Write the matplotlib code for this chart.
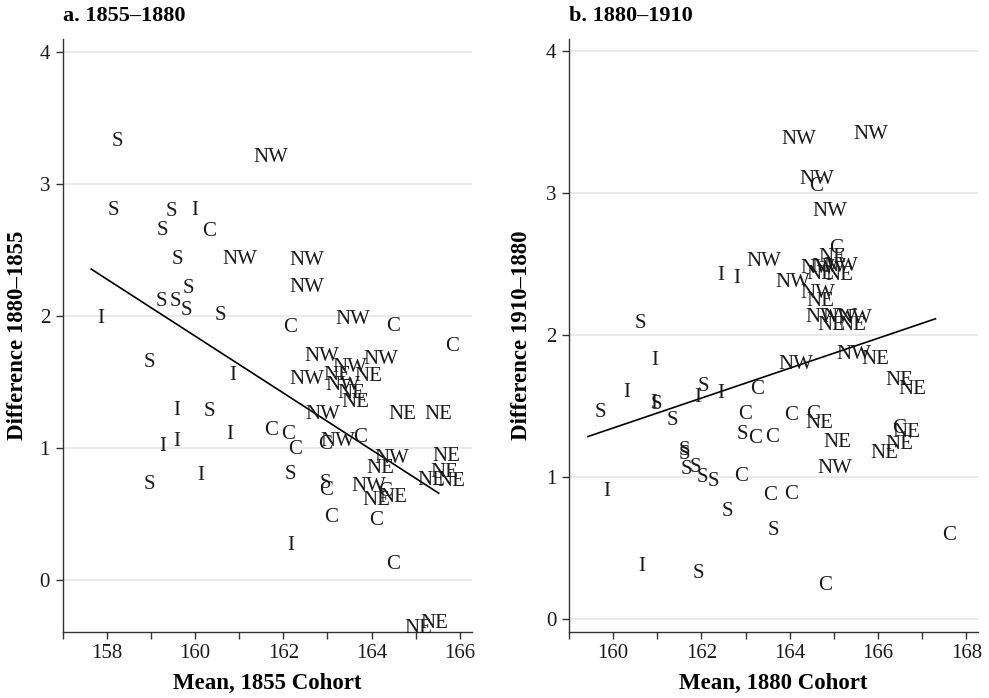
import numpy as np
import matplotlib.pyplot as plt

plt.rcParams['font.family'] = ['Liberation Serif', 'DejaVu Serif']

# panel a: 1855 cohort mean vs. change 1855-1880, labelled by region
reg_a = ['S', 'NW', 'S', 'S', 'I', 'S', 'C', 'S', 'NW', 'NW',
         'NW', 'S', 'S', 'S', 'S', 'S', 'I', 'C', 'NW', 'C',
         'C', 'S', 'NW', 'NW', 'I', 'NW', 'NE', 'NW', 'NE', 'NW',
         'NE', 'NE', 'I', 'S', 'NW', 'NE', 'NE', 'C', 'C', 'I',
         'I', 'I', 'C', 'C', 'NW', 'C', 'NW', 'NE', 'NE', 'NE',
         'NE', 'NE', 'S', 'S', 'I', 'S', 'C', 'NW', 'C', 'NE',
         'NE', 'C', 'C', 'I', 'C', 'NE', 'NE']
mean_a = [157.97, 161.18, 157.88, 159.19, 159.77, 158.99, 160.01, 159.33, 160.47, 162.00,
          162.00, 159.57, 158.96, 159.28, 159.53, 160.31, 157.65, 161.85, 163.04, 164.19,
          165.52, 158.70, 162.33, 163.67, 160.64, 162.00, 162.77, 162.81, 163.46, 162.98,
          163.09, 163.17, 159.36, 160.06, 162.35, 164.24, 165.05, 161.43, 161.82, 160.56,
          159.36, 159.06, 161.97, 162.64, 162.69, 163.44, 163.92, 163.75, 165.23, 165.18,
          164.90, 165.34, 161.88, 158.70, 159.92, 162.68, 162.66, 163.41, 164.01, 163.64,
          164.03, 162.78, 163.80, 161.94, 164.19, 164.61, 164.97]
diff_a = [3.34, 3.22, 2.82, 2.81, 2.82, 2.67, 2.66, 2.45, 2.45, 2.44,
          2.235, 2.23, 2.13, 2.13, 2.06, 2.02, 2.00, 1.93, 1.99, 1.94,
          1.79, 1.665, 1.71, 1.69, 1.57, 1.54, 1.57, 1.49, 1.557, 1.63,
          1.434, 1.365, 1.306, 1.296, 1.27, 1.275, 1.27, 1.152, 1.12, 1.118,
          1.067, 1.03, 1.006, 1.045, 1.065, 1.096, 0.94, 0.866, 0.955, 0.835,
          0.77, 0.763, 0.814, 0.742, 0.81, 0.75, 0.70, 0.725, 0.686, 0.622,
          0.64, 0.494, 0.469, 0.282, 0.136, -0.351, -0.312]

# panel b: 1880 cohort mean vs. change 1880-1910
reg_b = ['NW', 'NW', 'NW', 'C', 'NW', 'C', 'NE', 'NW', 'NW', 'NW',
         'NE', 'NE', 'NW', 'I', 'I', 'NW', 'NW', 'NE', 'NW', 'NW',
         'NW', 'NE', 'NE', 'S', 'I', 'NW', 'NW', 'NE', 'NE', 'NE',
         'I', 'S', 'I', 'I', 'C', 'I', 'S', 'S', 'S', 'C',
         'C', 'C', 'NE', 'S', 'C', 'C', 'NE', 'C', 'NE', 'NE',
         'NE', 'NW', 'S', 'S', 'S', 'S', 'S', 'S', 'C', 'I',
         'C', 'C', 'S', 'S', 'C', 'I', 'S', 'C']
mean_b = [163.66, 165.30, 164.08, 164.29, 164.38, 164.74, 164.50, 164.10, 164.34, 164.62,
          164.24, 164.67, 162.87, 162.21, 162.58, 163.54, 164.09, 164.23, 164.22, 164.60,
          164.93, 164.49, 164.95, 160.34, 160.73, 163.61, 164.91, 165.47, 166.03, 166.32,
          160.08, 161.77, 161.69, 162.21, 162.96, 160.69, 160.70, 159.43, 161.08, 162.69,
          163.72, 164.24, 164.21, 162.66, 162.91, 163.31, 164.61, 166.17, 166.19, 166.03,
          165.68, 164.49, 161.34, 161.35, 161.39, 161.59, 161.76, 161.99, 162.60, 159.64,
          163.25, 163.73, 162.31, 163.35, 167.30, 160.43, 161.65, 164.50]
diff_b = [3.393, 3.431, 3.11, 3.066, 2.89, 2.625, 2.56, 2.485, 2.49, 2.50,
          2.44, 2.433, 2.538, 2.434, 2.418, 2.385, 2.31, 2.25, 2.138, 2.138,
          2.133, 2.083, 2.083, 2.097, 1.84, 1.812, 1.877, 1.846, 1.694, 1.636,
          1.61, 1.655, 1.58, 1.607, 1.632, 1.537, 1.525, 1.473, 1.418, 1.456,
          1.449, 1.459, 1.396, 1.32, 1.29, 1.298, 1.26, 1.357, 1.334, 1.248,
          1.182, 1.074, 1.207, 1.176, 1.068, 1.082, 1.015, 0.988, 1.019, 0.914,
          0.886, 0.896, 0.773, 0.642, 0.605, 0.384, 0.336, 0.255]

panels = [
    dict(x=mean_a, y=diff_a, lab=reg_a, title='a. 1855–1880',
         xlabel='Mean, 1855 Cohort', ylabel='Difference 1880–1855',
         xlim=(157.38, 166.27), ylim=(-0.395, 4.1), xticks=range(158, 167, 2),
         pos=[0.0632, 0.0946, 0.4139, 0.8496], ylab_x=-0.111),
    dict(x=mean_b, y=diff_b, lab=reg_b, title='b. 1880–1910',
         xlabel='Mean, 1880 Cohort', ylabel='Difference 1910–1880',
         xlim=(159.16, 168.27), ylim=(-0.092, 4.085), xticks=range(160, 169, 2),
         pos=[0.5753, 0.0946, 0.4139, 0.8496], ylab_x=-0.115),
]

fig = plt.figure(figsize=(9.89, 6.98), dpi=100)

for p in panels:
    ax = fig.add_axes(p['pos'])
    x = np.array(p['x'])
    y = np.array(p['y'])

    for xi, yi, s in zip(x, y, p['lab']):
        ax.annotate(s, (xi, yi), xytext=(4.5, 0), textcoords='offset points',
                    ha='left', va='center_baseline', fontsize=15, color='#1a1a1a')

    # linear fit over the observed range
    b = np.polyfit(x, y, 1)
    xs = np.array([x.min(), x.max()])
    ax.plot(xs, np.polyval(b, xs), color='black', lw=1.2)

    ax.set_xlim(p['xlim'])
    ax.set_ylim(p['ylim'])
    ax.set_xticks(list(p['xticks']))
    ax.set_xticks(np.arange(p['xticks'][0] - 1, p['xticks'][-1] + 1, 1), minor=True)
    ax.set_yticks(range(0, 5))
    ax.grid(axis='y', color='#e8e8e8', lw=1.3)
    ax.set_axisbelow(True)

    for side in ['top', 'right']:
        ax.spines[side].set_visible(False)
    for side in ['left', 'bottom']:
        ax.spines[side].set_color('#333333')
        ax.spines[side].set_linewidth(1.0)

    ax.tick_params(which='both', direction='out', length=5, width=1.0,
                   color='#333333', labelsize=15, labelcolor='#1a1a1a', pad=4)

    ax.set_xlabel(p['xlabel'], fontsize=16.5, fontweight='bold')
    ax.set_ylabel(p['ylabel'], fontsize=16.5, fontweight='bold')
    ax.xaxis.set_label_coords(0.5, -0.086)
    ax.xaxis.label.set_va('center')
    ax.yaxis.set_label_coords(p['ylab_x'], 0.5)
    ax.yaxis.label.set_va('center')

    ax.text(0.0, 1.0 + 23 / 593, p['title'], transform=ax.transAxes,
            ha='left', va='center', fontsize=16, fontweight='bold')

fig.savefig('out.png', dpi=100)
